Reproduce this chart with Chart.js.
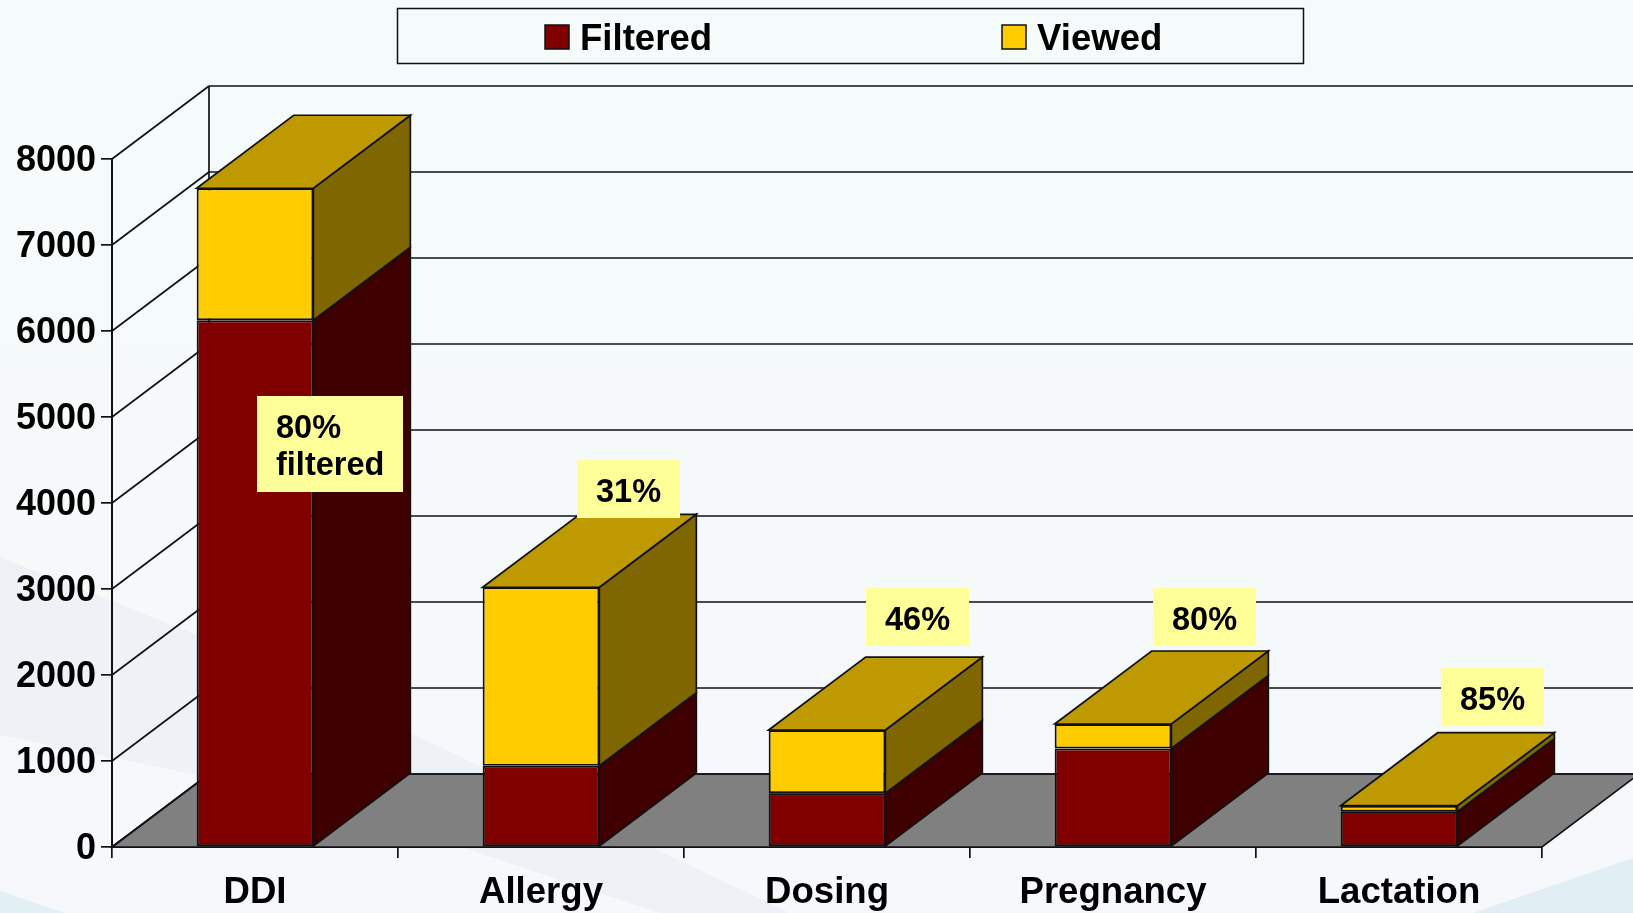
<!DOCTYPE html>
<html>
<head>
<meta charset="utf-8">
<title>Filtered vs viewed alerts</title>
<script src="https://cdn.jsdelivr.net/npm/chart.js@4"></script>
<style>
    html, body { margin: 0; padding: 0; background: #f5fbfa; overflow: hidden; }
    canvas { display: block; }
</style>
</head>
<body>
<canvas id="myChart" width="1633" height="913"></canvas>
<script>
const categories = ['DDI', 'Allergy', 'Dosing', 'Pregnancy', 'Lactation'];
const filtered = [6125, 945, 625, 1145, 410];
const viewed = [1535, 2075, 735, 285, 70];
const yTicks = [0, 1000, 2000, 3000, 4000, 5000, 6000, 7000, 8000];
const noteTexts = [['80%', 'filtered'], ['31%'], ['46%'], ['80%'], ['85%']];

// slant of the fake 3d box
const depthX = 97;
const depthY = 73;
const fontName = '"Liberation Sans", Arial, sans-serif';
const lineColor = '#111';

// pixel boxes of the yellow notes, same order as noteTexts
const noteBoxes = [
    { x: 257, y: 396, w: 146, h: 96, textX: 276 },
    { x: 577, y: 460, w: 103, h: 58 },
    { x: 866, y: 588, w: 103, h: 58 },
    { x: 1153, y: 588, w: 103, h: 58 },
    { x: 1441, y: 668, w: 103, h: 58 }
];

// colors: front, side, top
const filteredColors = { front: '#800000', side: '#3f0000' };
const viewedColors = { front: '#ffcc00', side: '#806600', top: '#bf9900' };

function poly(ctx, points, fill, stroke, width) {
    ctx.beginPath();
    ctx.moveTo(points[0][0], points[0][1]);
    for (let i = 1; i < points.length; i++) {
        ctx.lineTo(points[i][0], points[i][1]);
    }
    ctx.closePath();
    if (fill) {
        ctx.fillStyle = fill;
        ctx.fill();
    }
    if (stroke) {
        ctx.strokeStyle = stroke;
        ctx.lineWidth = width || 1.5;
        ctx.stroke();
    }
}

function line(ctx, x1, y1, x2, y2, width) {
    ctx.beginPath();
    ctx.moveTo(x1, y1);
    ctx.lineTo(x2, y2);
    ctx.strokeStyle = lineColor;
    ctx.lineWidth = width || 1.5;
    ctx.stroke();
}

const backgroundPlugin = {
    id: 'slideBackground',
    beforeDraw(chart) {
        const ctx = chart.ctx;
        const w = chart.width;
        const h = chart.height;
        const grad = ctx.createLinearGradient(0, 0, 0, h);
        grad.addColorStop(0, '#f5fbfa');
        grad.addColorStop(1, '#f6f8fb');
        ctx.fillStyle = grad;
        ctx.fillRect(0, 0, w, h);
        poly(ctx, [[0, 557], [197, 635], [410, 733], [655, 849], [790, 913], [660, 913], [467, 849], [197, 775], [0, 735]], '#eef2f6');
        poly(ctx, [[0, 891], [65, 913], [0, 913]], '#e3f0f3');
        poly(ctx, [[1473, 913], [1633, 858], [1633, 913]], '#e1eef4');

        // y labels sit a bit lower than canvas middle baseline gives
        chart.scales.y.getLabelItems().forEach(function (item) {
            if (!item.moved) {
                item.options.translation[1] += 2;
                item.moved = true;
            }
        });
    }
};

const box3dPlugin = {
    id: 'box3d',
    beforeDatasetsDraw(chart) {
        const ctx = chart.ctx;
        const xScale = chart.scales.x;
        const yScale = chart.scales.y;
        const y0 = yScale.getPixelForValue(0);
        const left = xScale.left;
        const right = xScale.right;

        // floor
        poly(ctx, [[left, y0], [left + depthX, y0 - depthY], [right + depthX, y0 - depthY], [right, y0]], '#808080', lineColor, 1.7);

        // walls: slanted part on the left and straight part at the back
        yScale.ticks.forEach(function (t) {
            const y = yScale.getPixelForValue(t.value);
            line(ctx, left, y, left + depthX, y - depthY, 1.7);
            line(ctx, left + depthX, y - depthY, chart.width, y - depthY, 1.7);
        });
        line(ctx, left + depthX, yScale.top - depthY, left + depthX, y0 - depthY, 1.7);

        // sides and tops of the bars, bottom segment first
        const metas = [chart.getDatasetMeta(0), chart.getDatasetMeta(1)];
        const colors = [filteredColors, viewedColors];
        categories.forEach(function (c, i) {
            metas.forEach(function (meta, d) {
                const bar = meta.data[i];
                const x2 = bar.x + bar.width / 2;
                poly(ctx, [[x2, bar.base], [x2 + depthX, bar.base - depthY], [x2 + depthX, bar.y - depthY], [x2, bar.y]], colors[d].side, lineColor, 1.7);
            });
            const topBar = metas[1].data[i];
            const x1 = topBar.x - topBar.width / 2;
            const x2 = topBar.x + topBar.width / 2;
            poly(ctx, [[x1, topBar.y], [x1 + depthX, topBar.y - depthY], [x2 + depthX, topBar.y - depthY], [x2, topBar.y]], viewedColors.top, lineColor, 1.7);
        });
    },
    afterDraw(chart) {
        const ctx = chart.ctx;

        // notes
        ctx.font = 'bold 32.5px ' + fontName;
        ctx.textBaseline = 'middle';
        noteTexts.forEach(function (lines, i) {
            const b = noteBoxes[i];
            ctx.fillStyle = '#ffff99';
            ctx.fillRect(b.x, b.y, b.w, b.h);
            ctx.fillStyle = '#000';
            const lineH = 37;
            const startY = b.y + b.h / 2 - (lines.length - 1) * lineH / 2 + 4;
            lines.forEach(function (txt, k) {
                ctx.textAlign = b.textX ? 'left' : 'center';
                ctx.fillText(txt, b.textX || b.x + b.w / 2, startY + k * lineH);
            });
        });

        // legend
        ctx.strokeStyle = lineColor;
        ctx.lineWidth = 1.5;
        ctx.strokeRect(397.5, 8.5, 906, 55);
        ctx.font = 'bold 36.6px ' + fontName;
        ctx.textAlign = 'left';
        const swatchX = [545, 1002];
        chart.data.datasets.forEach(function (ds, i) {
            ctx.fillStyle = ds.backgroundColor;
            ctx.fillRect(swatchX[i], 25, 24, 24);
            ctx.strokeRect(swatchX[i], 25, 24, 24);
            ctx.fillStyle = '#000';
            ctx.fillText(ds.label, swatchX[i] + 35, 40);
        });
    }
};

const myChart = new Chart(document.getElementById('myChart'), {
    type: 'bar',
    data: {
        labels: categories,
        datasets: [{
            label: 'Filtered',
            data: filtered,
            backgroundColor: filteredColors.front,
            borderColor: lineColor,
            borderWidth: 2,
            borderSkipped: false,
            inflateAmount: 0,
            categoryPercentage: 1,
            barPercentage: 0.408
        }, {
            label: 'Viewed',
            data: viewed,
            backgroundColor: viewedColors.front,
            borderColor: lineColor,
            borderWidth: 2,
            borderSkipped: false,
            inflateAmount: 0,
            categoryPercentage: 1,
            barPercentage: 0.408
        }]
    },
    options: {
        responsive: false,
        animation: false,
        layout: {
            padding: { top: 159, right: 91, bottom: 0, left: 0 }
        },
        plugins: {
            legend: { display: false },
            tooltip: { enabled: false }
        },
        scales: {
            x: {
                stacked: true,
                afterFit(scale) { scale.height = 66; },
                border: { color: lineColor, width: 2 },
                grid: { drawOnChartArea: false, color: lineColor, lineWidth: 1.7, tickLength: 11 },
                ticks: {
                    color: '#000',
                    padding: 13,
                    maxRotation: 0,
                    font: { family: fontName, size: 36.6, weight: 'bold' }
                }
            },
            y: {
                stacked: true,
                min: 0,
                max: 8000,
                afterFit(scale) { scale.width = 112; },
                afterBuildTicks(scale) { scale.ticks = yTicks.map(function (v) { return { value: v }; }); },
                border: { color: lineColor, width: 2 },
                grid: { drawOnChartArea: false, color: lineColor, lineWidth: 1.7, tickLength: 11 },
                ticks: {
                    color: '#000',
                    padding: 5,
                    callback(value) { return String(value); },
                    font: { family: fontName, size: 36, weight: 'bold' }
                }
            }
        }
    },
    plugins: [backgroundPlugin, box3dPlugin]
});
</script>
</body>
</html>
